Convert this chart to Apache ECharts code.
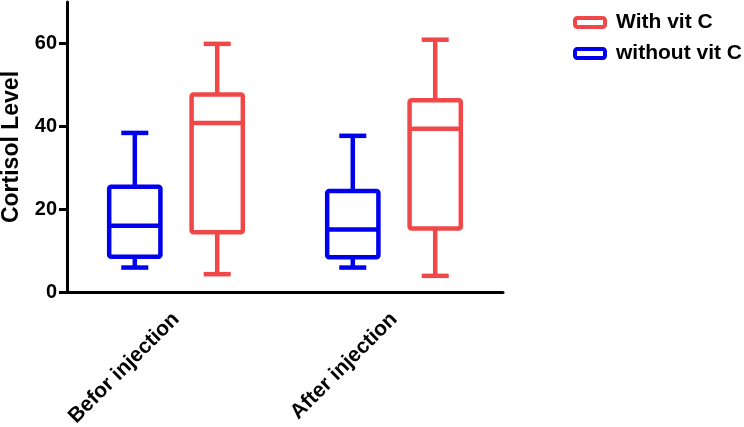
<!DOCTYPE html>
<html>
<head>
<meta charset="utf-8">
<script src="https://cdn.jsdelivr.net/npm/echarts@6/dist/echarts.min.js"></script>
<style>
html,body{margin:0;padding:0;background:#fff;}
#main{width:744px;height:427px;}
</style>
</head>
<body>
<div id="main"></div>
<script>
// categories and box stats [min, Q1, median, Q3, max]
var categories = ['Befor injection', 'After injection'];
var withVitC = [
  [4.3, 14.4, 40.8, 47.7, 59.9],
  [3.9, 15.3, 39.4, 46.3, 60.9]
];
var withoutVitC = [
  [5.9, 8.5, 16.0, 25.4, 38.4],
  [5.9, 8.4, 15.1, 24.4, 37.7]
];
var yTicks = [0, 20, 40, 60];
var seriesNames = ['With vit C', 'without vit C'];

var RED = '#F04848';
var BLUE = '#0000EE';
var FONT = 'Liberation Sans, Arial, sans-serif';

function toData(arr) {
  return arr.map(function (s, i) { return [i].concat(s); });
}

function makeRender(side, color) {
  return function (params, api) {
    var cat = api.value(0);
    var band = api.size([1, 0])[0];
    var cx = api.coord([cat, 0])[0] + side * band * 0.189;
    function y(i) { return api.coord([cat, api.value(i)])[1]; }
    var ymin = y(1), yq1 = y(2), ymed = y(3), yq3 = y(4), ymax = y(5);
    var bw = band * 0.235, cw = band * 0.124;
    var st = { stroke: color, lineWidth: 4.5, fill: null, lineCap: 'butt', lineJoin: 'round' };
    return {
      type: 'group',
      children: [
        { type: 'rect', shape: { x: cx - bw / 2, y: yq3, width: bw, height: yq1 - yq3, r: 2 }, style: { stroke: color, lineWidth: 4.5, fill: 'rgba(0,0,0,0)' } },
        { type: 'line', shape: { x1: cx - bw / 2, y1: ymed, x2: cx + bw / 2, y2: ymed }, style: st },
        { type: 'line', shape: { x1: cx, y1: yq3, x2: cx, y2: ymax }, style: st },
        { type: 'line', shape: { x1: cx, y1: yq1, x2: cx, y2: ymin }, style: st },
        { type: 'line', shape: { x1: cx - cw / 2, y1: ymax, x2: cx + cw / 2, y2: ymax }, style: st },
        { type: 'line', shape: { x1: cx - cw / 2, y1: ymin, x2: cx + cw / 2, y2: ymin }, style: st }
      ]
    };
  };
}

var chart = echarts.init(document.getElementById('main'), null, { renderer: 'canvas' });
chart.setOption({
  animation: false,
  backgroundColor: '#fff',
  grid: { left: 67, right: 241, top: 2, bottom: 135, containLabel: false, outerBoundsMode: 'none' },
  legend: {
    orient: 'vertical',
    left: 568,
    top: 7,
    itemWidth: 30,
    itemHeight: 9,
    itemGap: 10,
    textStyle: { fontFamily: FONT, fontWeight: 'bold', fontSize: 21, color: '#000', padding: [0, 0, 0, 6] },
    data: [
      { name: seriesNames[0], icon: 'roundRect', itemStyle: { color: '#fff', borderColor: RED, borderWidth: 4 } },
      { name: seriesNames[1], icon: 'roundRect', itemStyle: { color: '#fff', borderColor: BLUE, borderWidth: 4 } }
    ]
  },
  xAxis: {
    type: 'category',
    data: categories,
    boundaryGap: true,
    axisLine: { lineStyle: { color: '#000', width: 3 } },
    axisTick: { alignWithLabel: true, length: 7, lineStyle: { color: '#000', width: 3 } },
    axisLabel: { rotate: 45, margin: 24, fontFamily: FONT, fontWeight: 'bold', fontSize: 21, color: '#000', interval: 0 },
    splitLine: { show: false }
  },
  yAxis: {
    type: 'value',
    min: 0,
    max: 70,
    name: 'Cortisol Level',
    nameLocation: 'middle',
    nameGap: 44,
    nameTextStyle: { fontFamily: FONT, fontWeight: 'bold', fontSize: 23, color: '#000' },
    axisLine: { show: true, lineStyle: { color: '#000', width: 3 } },
    axisTick: { show: true, length: 8, customValues: yTicks, lineStyle: { color: '#000', width: 3 } },
    axisLabel: { customValues: yTicks, margin: 10, fontFamily: FONT, fontWeight: 'bold', fontSize: 20, color: '#000' },
    splitLine: { show: false }
  },
  series: [
    {
      name: seriesNames[0], type: 'custom', renderItem: makeRender(1, RED),
      itemStyle: { color: RED }, encode: { x: 0, y: [1, 2, 3, 4, 5] }, data: toData(withVitC), clip: false
    },
    {
      name: seriesNames[1], type: 'custom', renderItem: makeRender(-1, BLUE),
      itemStyle: { color: BLUE }, encode: { x: 0, y: [1, 2, 3, 4, 5] }, data: toData(withoutVitC), clip: false
    }
  ]
});
</script>
</body>
</html>
